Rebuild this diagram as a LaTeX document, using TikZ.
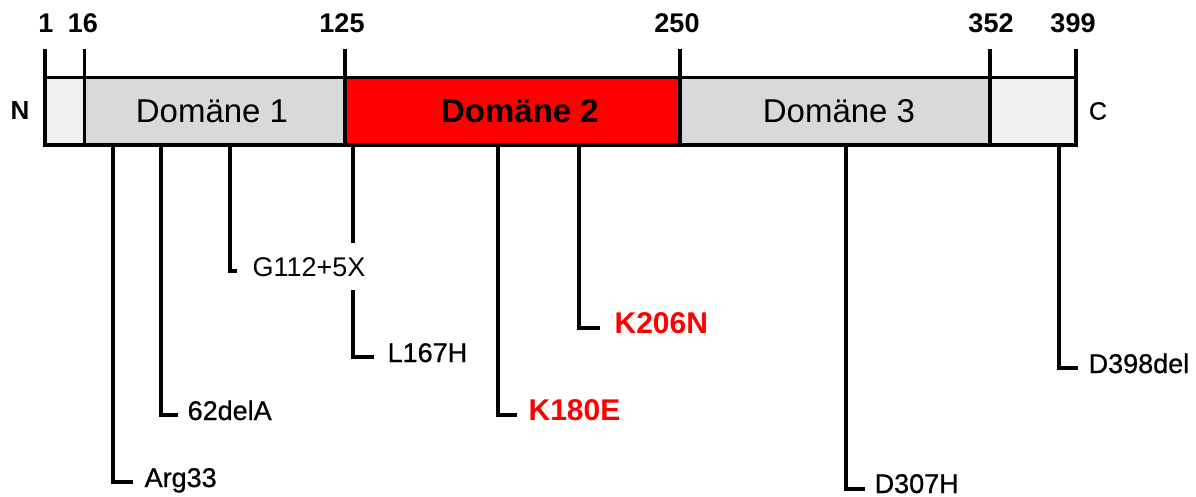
\documentclass[tikz,border=0pt]{standalone}
\usepackage{fontspec}
\setmainfont{Liberation Sans}
\newfontfamily\semibold[FakeBold=0.8]{Liberation Sans}
\usetikzlibrary{backgrounds}
\definecolor{termgray}{HTML}{F0F0F0}
\definecolor{domgray}{HTML}{D9D9D9}
\definecolor{domred}{HTML}{FF0000}
\begin{document}
\begin{tikzpicture}[x=1pt,y=-1pt,line width=3.3pt,
  numlabel/.style={anchor=base,inner sep=0pt,font=\fontsize{27}{29}\selectfont\bfseries},
  termlabel/.style={inner sep=0pt,font=\fontsize{25}{27}\selectfont\semibold},
  domtext/.style={inner sep=0pt,font=\fontsize{33}{36}\selectfont},
  mut/.style={anchor=west,inner sep=0pt,text height=20pt,text depth=0pt,
    font=\fontsize{27}{29}\selectfont\semibold},
  hotmut/.style={mut,text=domred,font=\fontsize{30}{32}\selectfont\bfseries},
  arm/.style={line width=3.3pt}]
\useasboundingbox (0,0) rectangle (1196,497);

% protein bar: segments
\fill[termgray] (45,77.5) rectangle (84.5,145);
\fill[domgray]  (84.5,77.5) rectangle (345,145);
\fill[domred]   (345,77.5) rectangle (680,145);
\fill[domgray]  (680,77.5) rectangle (990,145);
\fill[termgray] (990,77.5) rectangle (1076,145);
\draw (45,77.5) rectangle (1076,145);
\foreach \x in {84.5,345,680,990} \draw (\x,77.5) -- (\x,145);

% position ticks and numbers
\foreach \x in {45,84.5,345,680,990,1076}{
  \draw (\x,49) -- (\x,77.5);
}
\node[numlabel] (p1)   at (46,33)   {1};
\node[numlabel] (p16)  at (83,33)   {16};
\node[numlabel] (p125) at (342,33)  {125};
\node[numlabel] (p250) at (677,33)  {250};
\node[numlabel] (p352) at (991,33)  {352};
\node[numlabel] (p399) at (1073,33) {399};

% termini and domain names
\node[termlabel,font=\fontsize{26}{28}\selectfont\bfseries] (nterm) at (20,111) {N};
\node[termlabel] (cterm) at (1098,111) {C};
\node[domtext] (d1) at (212,111) {Domäne 1};
\node[domtext,font=\fontsize{33}{36}\selectfont\bfseries] (d2) at (520,111) {Domäne 2};
\node[domtext] (d3) at (839,111) {Domäne 3};

% mutation sites on the lower edge of the bar
\coordinate (s33)  at (113,145);
\coordinate (s62)  at (161,145);
\coordinate (s112) at (230,145);
\coordinate (s167) at (353,145);
\coordinate (s180) at (498,145);
\coordinate (s206) at (579,145);
\coordinate (s307) at (846,145);
\coordinate (s398) at (1059,145);

% mutation labels
\node[mut] (m33)  at (143,477) {Arg33};
\node[mut] (m62)  at (186,410) {62delA};
\node[mut,font=\fontsize{27}{29}\selectfont,fill=white,inner ysep=13.5pt] (m112) at (251,266) {G112+5X};
\node[mut] (m167) at (386,352) {L167H};
\node[hotmut] (m180) at (527,410) {K180E};
\node[hotmut] (m206) at (613,323) {K206N};
\node[mut] (m307) at (873,483) {D307H};
\node[mut] (m398) at (1087,363) {D398del};

% leader lines
\begin{scope}[on background layer]
\draw[arm] (s33)  |- ([xshift=-10pt,yshift=-5pt]m33.west);
\draw[arm] (s62)  |- ([xshift=-8pt,yshift=-5pt]m62.west);
\draw[arm] (s112) |- ([xshift=-14pt,yshift=-5pt]m112.west);
\draw[arm] (s167) |- ([xshift=-12pt,yshift=-5pt]m167.west);
\draw[arm] (s180) |- ([xshift=-10pt,yshift=-5pt]m180.west);
\draw[arm] (s206) |- ([xshift=-13pt,yshift=-5pt]m206.west);
\draw[arm] (s307) |- ([xshift=-8pt,yshift=-6pt]m307.west);
\draw[arm] (s398) |- ([xshift=-9pt,yshift=-5pt]m398.west);
\end{scope}
\end{tikzpicture}
\end{document}
